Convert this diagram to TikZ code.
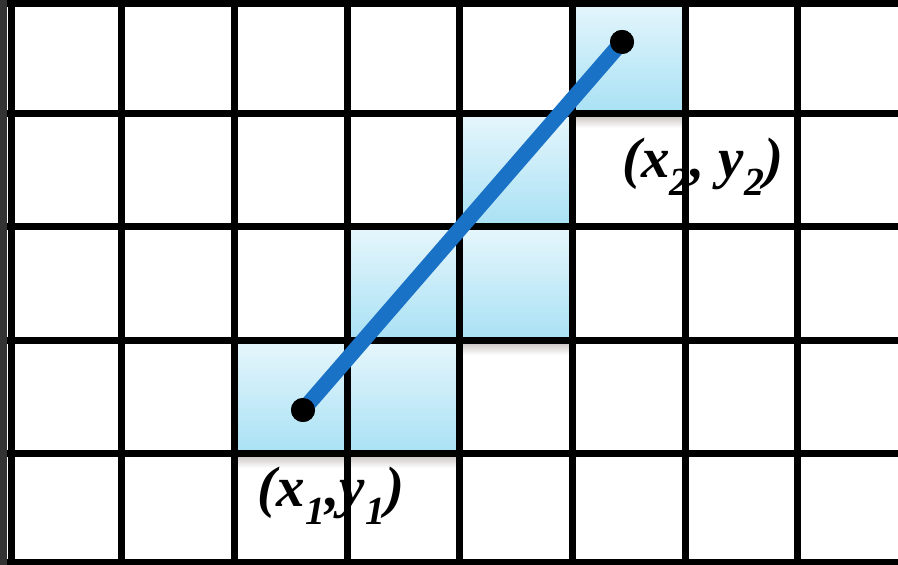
\documentclass[tikz,border=0pt]{standalone}
\usepackage{fontspec}
\setmainfont{Liberation Serif}
\definecolor{cellTop}{HTML}{E6F6FC}
\definecolor{cellBot}{HTML}{A8E1F4}
\definecolor{lineBlue}{HTML}{1A72C6}
\definecolor{frameGray}{HTML}{333333}
\definecolor{shadowCol}{HTML}{C4BCBC}
\tikzset{
  litcell/.style={top color=cellTop, bottom color=cellBot, draw=none},
  cellshadow/.style={top color=shadowCol, bottom color=white, draw=none},
  gridline/.style={draw=black, line width=7pt},
  blueline/.style={draw=lineBlue, line width=15.5pt},
  dotnode/.style={circle, fill=black, minimum size=24pt, inner sep=0pt},
  coordlabel/.style={font=\fontsize{57}{62}\selectfont\bfseries\itshape, inner sep=0pt, anchor=base}
}
\begin{document}
\begin{tikzpicture}[x=1pt,y=1pt]
\useasboundingbox (0,0) rectangle (898,565);
\fill[white] (0,0) rectangle (898,565);
\fill[frameGray] (0,0) rectangle (7,565);
% lit cells
\shade[litcell] (572,451) rectangle (685,565);
\shade[litcell] (459,338) rectangle (572,451);
\shade[litcell] (347,224) rectangle (459,338);
\shade[litcell] (459,224) rectangle (572,338);
\shade[litcell] (234,111) rectangle (347,224);
\shade[litcell] (347,111) rectangle (459,224);
% shadows below lit cells
\shade[cellshadow] (572,437) rectangle (685,451);
\shade[cellshadow] (459,210) rectangle (572,224);
\shade[cellshadow] (234,97) rectangle (459,111);
% labels
\node[coordlabel] (l1) at (331,58) {(x\textsubscript{1},y\textsubscript{1})};
\node[coordlabel] (l2) at (703,387) {(x\textsubscript{2}, y\textsubscript{2})};
% grid
\foreach \gx in {11,121,234,347,459,572,685,797}
  \draw[gridline] (\gx,0) -- (\gx,565);
\foreach \gy in {2,111,224,338,451,561.5}
  \draw[gridline] (7,\gy) -- (898,\gy);
% segment
\node[dotnode] (p1) at (303,155) {};
\node[dotnode] (p2) at (622,523) {};
\draw[blueline] (p1.center) -- (p2.center);
\node[dotnode] at (p1.center) {};
\node[dotnode] at (p2.center) {};
\end{tikzpicture}
\end{document}
